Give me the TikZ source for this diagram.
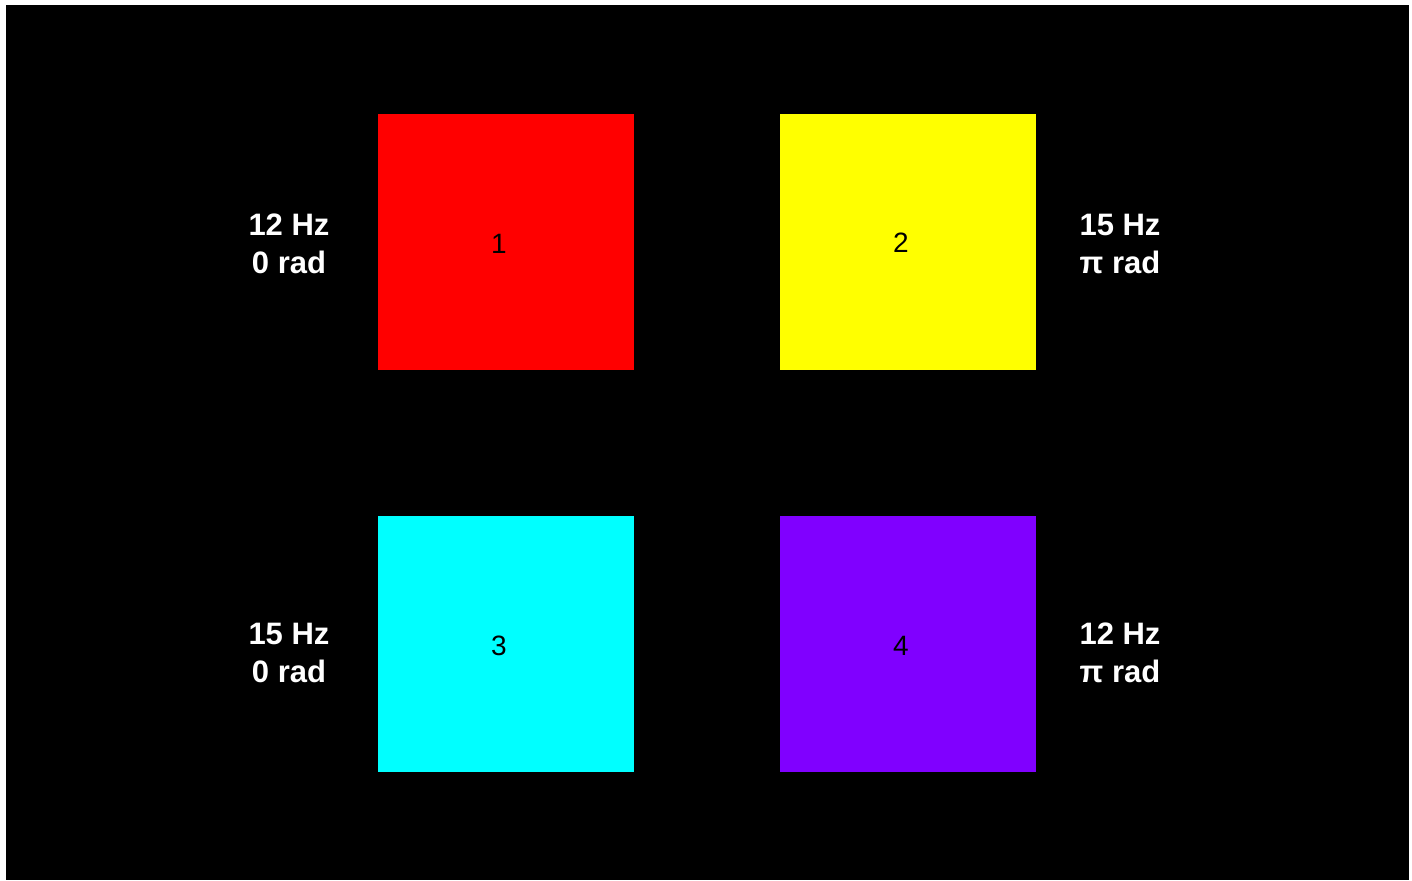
\documentclass[tikz,border=0pt]{standalone}
\usepackage{fontspec}
\setmainfont{Liberation Sans}
\usepackage{xcolor}
\usetikzlibrary{positioning}
\definecolor{stimred}{HTML}{FF0000}
\definecolor{stimyellow}{HTML}{FFFF00}
\definecolor{stimcyan}{HTML}{00FFFF}
\definecolor{stimviolet}{HTML}{8000FF}
\tikzset{
  % quadrati di stimolazione
  stim/.style={draw=none,minimum size=256,inner sep=0},
  % numeri dei quadrati
  stimnum/.style={text=black,inner sep=0,font=\fontsize{28}{32}\selectfont},
  % etichette frequenza / fase
  freq/.style={text=white,align=center,inner sep=0,font=\fontsize{31}{38}\selectfont\bfseries}
}
\begin{document}
\begin{tikzpicture}[x=1pt,y=-1pt]
  \useasboundingbox (0,0) rectangle (1412,880);
  \fill[white] (0,0) rectangle (1412,880);
  \fill[black] (6,5) rectangle (1409,880);
  % quadrati
  \node[stim,fill=stimred]    (sq1) at (506,242) {};
  \node[stim,fill=stimyellow] (sq2) at (908,242) {};
  \node[stim,fill=stimcyan]   (sq3) at (506,644) {};
  \node[stim,fill=stimviolet] (sq4) at (908,644) {};
  \node[stimnum] (n1) at ([xshift=-7,yshift=-2]sq1.center) {1};
  \node[stimnum] (n2) at ([xshift=-7,yshift=-1]sq2.center) {2};
  \node[stimnum] (n3) at ([xshift=-7,yshift=-2]sq3.center) {3};
  \node[stimnum] (n4) at ([xshift=-7,yshift=-2]sq4.center) {4};
  % etichette
  \node[freq] (lab1) at (289,244) {12 Hz\\0 rad};
  \node[freq] (lab2) at (1120,244) {15 Hz\\π rad};
  \node[freq] (lab3) at (289,653) {15 Hz\\0 rad};
  \node[freq] (lab4) at (1120,653) {12 Hz\\π rad};
\end{tikzpicture}
\end{document}
